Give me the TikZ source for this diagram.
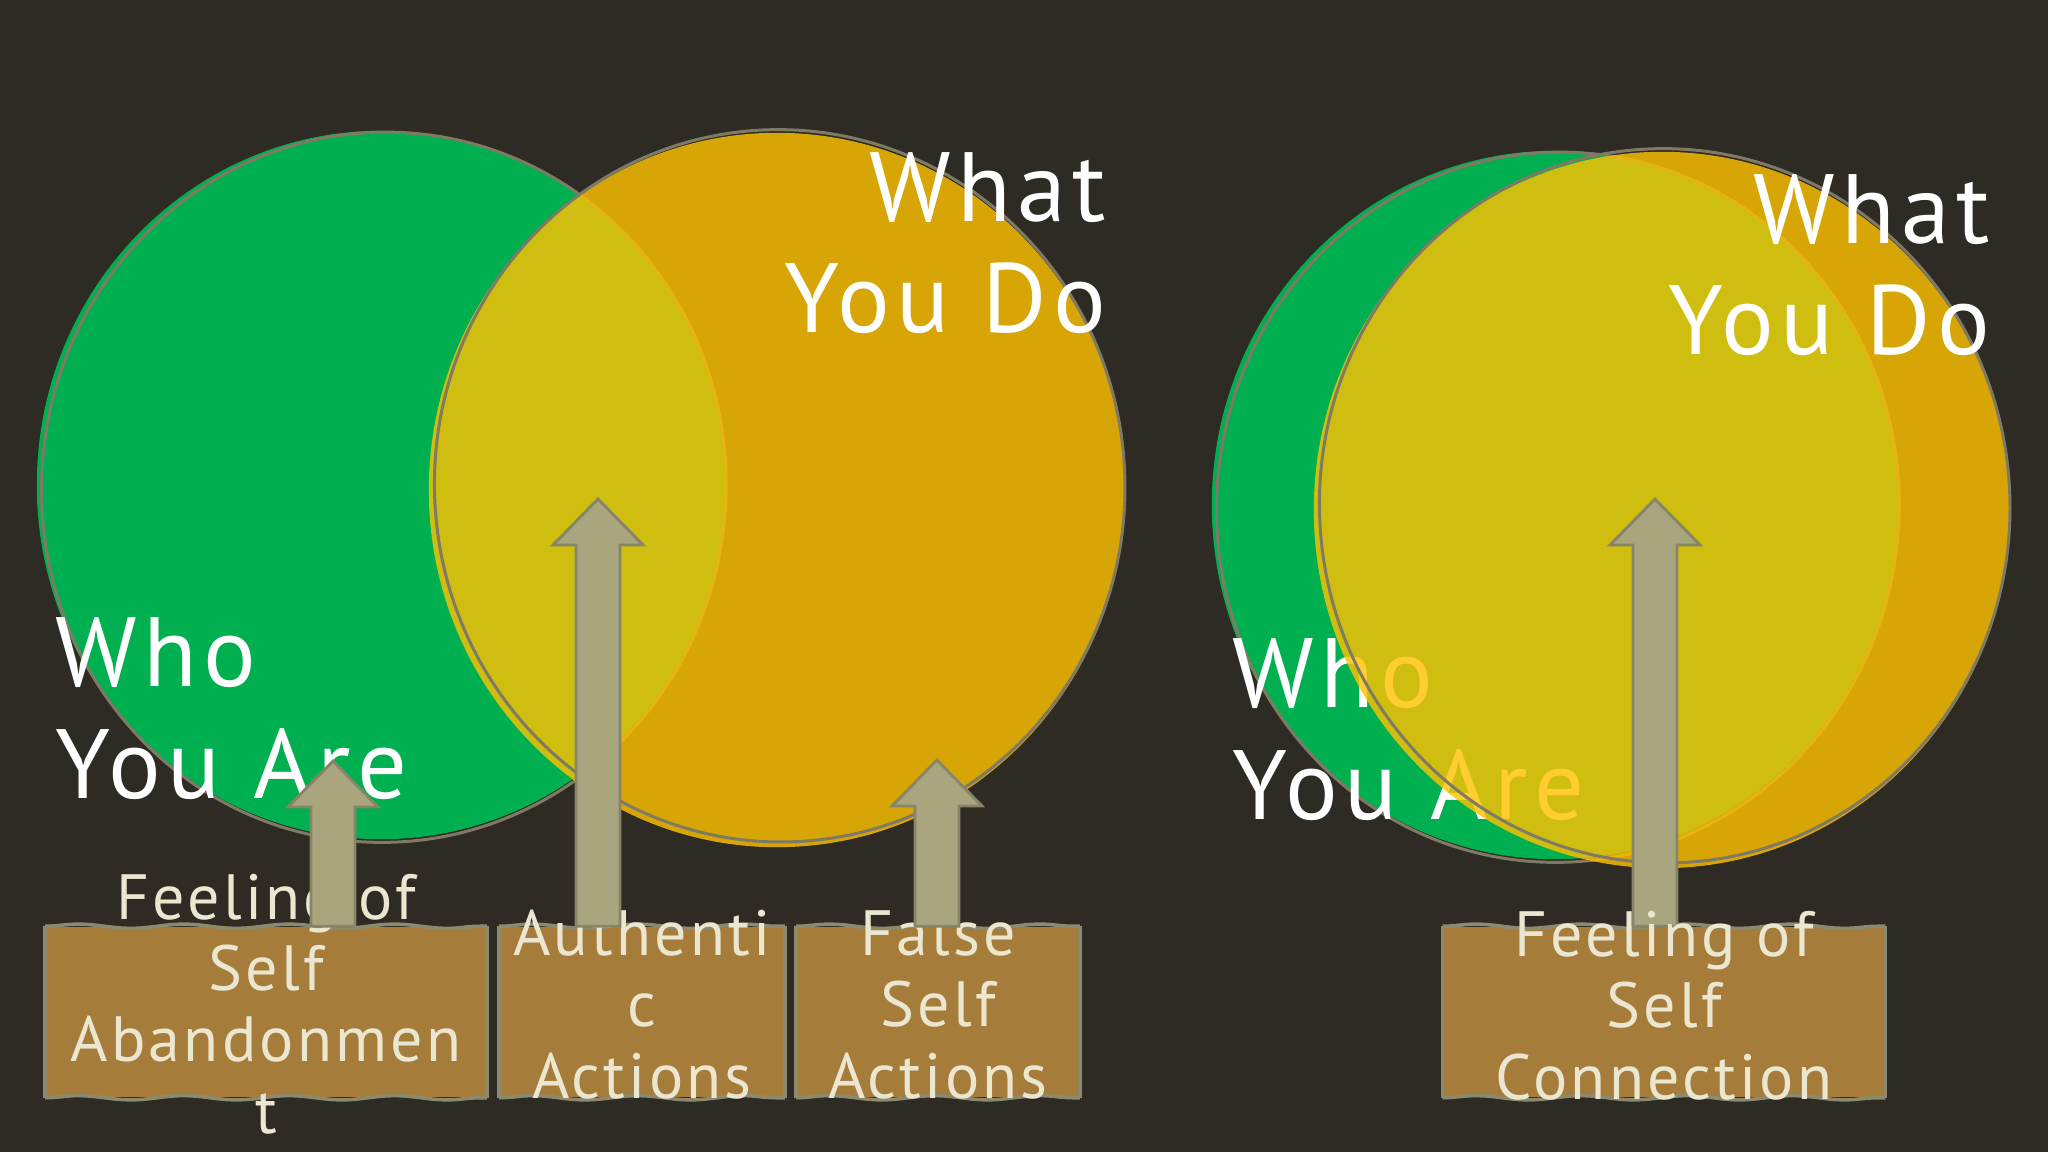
\documentclass[tikz,border=0pt]{standalone}
\usepackage{fontspec}
\setmainfont{PT Sans}
\newfontfamily\headfont[LetterSpace=6.5]{PT Sans}
\newfontfamily\plankfont[LetterSpace=5]{PT Sans}
\usetikzlibrary{calc,decorations.pathmorphing}

\definecolor{bg}{RGB}{46,42,36}
\definecolor{whogreen}{RGB}{0,175,80}
\definecolor{whatorange}{RGB}{255,194,0}
\definecolor{rim}{RGB}{127,122,100}
\definecolor{plank}{RGB}{165,124,58}
\definecolor{plankrim}{RGB}{140,138,110}
\definecolor{shaft}{RGB}{169,165,127}
\definecolor{shaftrim}{RGB}{135,132,104}
\definecolor{cream}{RGB}{234,230,207}

% block arrow from a foot coordinate up to a tip coordinate
\newcommand{\blockup}[2]{%
  \draw[shaftstyle] ($(#1)+(-22,0)$) -- ($(#2)+(-22,46)$) -- ($(#2)+(-45,46)$) -- (#2)
    -- ($(#2)+(45,46)$) -- ($(#2)+(22,46)$) -- ($(#1)+(22,0)$) -- cycle;}

% wavy outline of a plank node
\newcommand{\plankedges}[1]{%
  \draw[plankwave] (#1.north west) -- (#1.north east);
  \draw[plankwave] (#1.south west) -- (#1.south east);
  \draw[plankside] (#1.north west) -- (#1.south west);
  \draw[plankside] (#1.north east) -- (#1.south east);}

\begin{document}
\begin{tikzpicture}[%
        x=0.01cm, y=-0.01cm,
        greenblob/.style={fill=whogreen},
        orangeblob/.style={fill=whatorange, fill opacity=0.81},
        rimline/.style={draw=rim, line width=0.85pt},
        plankbox/.style={fill=plank, inner sep=0, minimum height=1.7cm},
        plankwave/.style={draw=plankrim, line width=1pt, decorate,
            decoration={snake, amplitude=0.6pt, segment length=30pt}},
        plankside/.style={draw=plankrim, line width=1pt},
        planktext/.style={text=cream, align=center, inner sep=0,
            font=\plankfont\fontsize{18.2}{20.2}\selectfont},
        bigtext/.style={text=white, inner sep=0,
            font=\headfont\fontsize{28}{31.6}\selectfont},
        shaftstyle/.style={fill=shaft, draw=shaftrim, line width=0.8pt}
        ]

        \useasboundingbox (0,0) rectangle (2048,1152);
        \fill[bg] (0,0) rectangle (2048,1152);

        % left diagram
        \fill[greenblob] (381,485) ellipse [x radius=3.44cm, y radius=3.54cm];
        \draw[rimline, rotate around={-5:(381,485)}] (384,487) ellipse [x radius=3.42cm, y radius=3.55cm];
        \fill[orangeblob] (777,490) ellipse [x radius=3.48cm, y radius=3.57cm];
        \draw[rimline, rotate around={4:(777,490)}] (780,486) ellipse [x radius=3.45cm, y radius=3.56cm];

        \node[bigtext, anchor=base west, align=left] (who1) at (55,798) {Who\\You Are};
        \node[bigtext, anchor=base east, align=right] (what1) at (1107,333) {What\\You Do};

        \node[plankbox, minimum width=4.40cm] (b1) at (266,1012) {};
        \node[plankbox, minimum width=2.84cm] (b2) at (642,1012) {};
        \node[plankbox, minimum width=2.82cm] (b3) at (938,1012) {};
        \plankedges{b1}
        \plankedges{b2}
        \plankedges{b3}

        \node[planktext, anchor=base] (t1) at ($(b1)+(0,121)$) {Feeling of\\Self\\Abandonmen\\t};
        \node[planktext, anchor=base] (t2) at ($(b2)+(0,86)$) {Authenti\\c\\Actions};
        \node[planktext, anchor=base] (t3) at ($(b3)+(0,86)$) {False\\Self\\Actions};

        \coordinate (tip1) at (333,761);
        \coordinate (tip2) at (598,499);
        \coordinate (tip3) at (937,760);
        \coordinate (foot1) at (tip1 |- b1.north);
        \coordinate (foot2) at (tip2 |- b2.north);
        \coordinate (foot3) at (tip3 |- b3.north);
        \blockup{foot1}{tip1}
        \blockup{foot2}{tip2}
        \blockup{foot3}{tip3}

        % right diagram
        \fill[greenblob] (1555,505) ellipse [x radius=3.43cm, y radius=3.54cm];
        \draw[rimline, rotate around={-5:(1555,505)}] (1558,507) ellipse [x radius=3.41cm, y radius=3.55cm];
        \node[bigtext, anchor=base west, align=left] (who2) at (1232,819) {Who\\You Are};
        \fill[orangeblob] (1662,510) ellipse [x radius=3.48cm, y radius=3.58cm];
        \draw[rimline, rotate around={4:(1662,510)}] (1665,506) ellipse [x radius=3.45cm, y radius=3.57cm];
        \node[bigtext, anchor=base east, align=right] (what2) at (1991,355) {What\\You Do};

        \node[plankbox, minimum width=4.41cm] (b4) at (1664,1012) {};
        \plankedges{b4}
        \coordinate (tip4) at (1655,499);
        \coordinate (foot4) at (tip4 |- b4.north);
        \blockup{foot4}{tip4}
        \node[planktext, anchor=base] (t4) at ($(b4)+(0,87)$) {Feeling of\\Self\\Connection};

\end{tikzpicture}
\end{document}
